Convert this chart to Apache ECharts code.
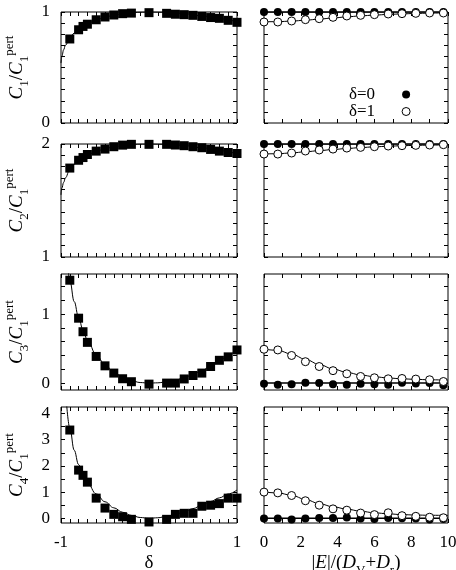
<!DOCTYPE html>
<html>
<head>
<meta charset="utf-8">
<script src="https://cdn.jsdelivr.net/npm/echarts@6/dist/echarts.min.js"></script>
<style>
  html, body { margin: 0; padding: 0; background: #fff; }
  #chart { width: 456px; height: 570px; }
</style>
</head>
<body>
<div id="chart"></div>
<script>
// left column: simulation points vs delta
var deltaX = [-0.9, -0.8, -0.75, -0.7, -0.6, -0.5, -0.4, -0.3, -0.2, 0, 0.2, 0.3, 0.4, 0.5, 0.6, 0.7, 0.8, 0.9, 1.0];
var c1Sim = [0.757, 0.84, 0.87, 0.89, 0.93, 0.955, 0.973, 0.985, 0.99, 0.994, 0.988, 0.98, 0.976, 0.97, 0.96, 0.95, 0.943, 0.925, 0.907];
var c2Sim = [1.787, 1.856, 1.88, 1.907, 1.937, 1.955, 1.976, 1.99, 1.997, 1.997, 1.997, 1.991, 1.985, 1.976, 1.967, 1.952, 1.937, 1.925, 1.916];
var c3Sim = [1.49, 0.94, 0.744, 0.59, 0.386, 0.25, 0.145, 0.063, 0.02, -0.015, 0, 0, 0.06, 0.11, 0.145, 0.24, 0.33, 0.38, 0.48];
var c4Sim = [3.37, 1.84, 1.64, 1.38, 0.77, 0.39, 0.15, 0.06, -0.04, -0.14, -0.04, 0.15, 0.19, 0.19, 0.46, 0.50, 0.56, 0.77, 0.77];

// left column: theory curves
var c1CurveX = [-1, -0.99, -0.97, -0.95, -0.9, -0.85, -0.8, -0.7, -0.6, -0.5, -0.4, -0.3, -0.2, -0.1, 0, 0.2, 0.4, 0.6, 0.8, 1.0];
var c1CurveY = [0.54, 0.6, 0.66, 0.7, 0.765, 0.81, 0.845, 0.893, 0.928, 0.953, 0.972, 0.985, 0.994, 0.998, 1.0, 0.997, 0.985, 0.965, 0.94, 0.91];
var c2CurveY = [1.55, 1.61, 1.66, 1.70, 1.775, 1.82, 1.855, 1.903, 1.935, 1.958, 1.975, 1.987, 1.995, 1.999, 2.0, 1.997, 1.986, 1.967, 1.942, 1.912];
var c3CurveX = [-0.92, -0.9, -0.85, -0.8, -0.75, -0.7, -0.6, -0.5, -0.4, -0.3, -0.2, -0.1, 0, 0.1, 0.2, 0.3, 0.4, 0.5, 0.6, 0.7, 0.8, 0.9, 1.0];
var c3CurveY = [1.65, 1.49, 1.18, 0.95, 0.77, 0.62, 0.41, 0.265, 0.16, 0.085, 0.035, 0.008, 0, 0.004, 0.018, 0.042, 0.078, 0.125, 0.18, 0.245, 0.32, 0.405, 0.5];
var c4CurveX = [-0.94, -0.9, -0.85, -0.8, -0.75, -0.7, -0.6, -0.5, -0.4, -0.3, -0.2, -0.1, 0, 0.1, 0.2, 0.3, 0.4, 0.5, 0.6, 0.7, 0.8, 0.9, 1.0];
var c4CurveY = [4.5, 3.45, 2.6, 2.05, 1.65, 1.35, 0.93, 0.63, 0.4, 0.23, 0.11, 0.03, 0, 0.02, 0.07, 0.15, 0.25, 0.37, 0.5, 0.64, 0.78, 0.93, 1.08];

// right column: points vs |E|/(Dv+Dr)
var eX = [0, 0.75, 1.5, 2.25, 3, 3.75, 4.5, 5.25, 6, 6.75, 7.5, 8.25, 9, 9.75];
var c1E0 = [1, 1, 1, 1, 1, 1, 1, 1, 1, 1, 1, 1, 1, 1];
var c1E1 = [0.91, 0.91, 0.919, 0.931, 0.94, 0.952, 0.964, 0.97, 0.976, 0.982, 0.985, 0.988, 0.991, 0.991];
var c2E0 = [2, 2, 2, 2, 2, 2, 2, 2, 2, 2, 2, 2, 2, 2];
var c2E1 = [1.911, 1.911, 1.92, 1.938, 1.947, 1.955, 1.964, 1.97, 1.976, 1.982, 1.985, 1.988, 1.991, 1.994];
var c3E0 = [-0.01, -0.025, -0.015, 0.005, 0, -0.015, -0.025, -0.01, -0.015, -0.025, 0.005, -0.005, 0, -0.03];
var c3E1 = [0.49, 0.48, 0.40, 0.31, 0.24, 0.18, 0.135, 0.096, 0.077, 0.062, 0.067, 0.058, 0.048, 0.023];
var c4E0 = [-0.01, -0.01, -0.05, -0.01, 0.01, 0.01, 0.03, -0.01, -0.03, 0.01, 0, -0.01, -0.05, -0.03];
var c4E1 = [1.0, 0.97, 0.87, 0.67, 0.50, 0.36, 0.31, 0.2, 0.14, 0.21, 0.10, 0.075, 0.04, 0.02];

// right column: theory curves
var eLineX = [0, 10];
var c1E0Line = [1, 1];
var c2E0Line = [2, 2];
var c3E0Line = [0, 0];
var c4E0Line = [0, 0];
var eCurveX = [0, 0.75, 1.5, 2.25, 3, 3.75, 4.5, 5.25, 6, 6.75, 7.5, 8.25, 9, 10];
var c1E1Curve = [0.912, 0.913, 0.918, 0.926, 0.936, 0.946, 0.956, 0.965, 0.972, 0.978, 0.983, 0.987, 0.99, 0.994];
var c2E1Curve = [1.912, 1.914, 1.921, 1.931, 1.941, 1.951, 1.96, 1.968, 1.975, 1.98, 1.985, 1.988, 1.99, 1.994];
var c3E1Curve = [0.49, 0.475, 0.42, 0.345, 0.27, 0.205, 0.155, 0.118, 0.092, 0.074, 0.062, 0.054, 0.048, 0.043];
var c4E1Curve = [1.0, 0.97, 0.88, 0.72, 0.56, 0.44, 0.35, 0.27, 0.21, 0.17, 0.14, 0.125, 0.115, 0.11];

// ticks and tick labels
var deltaTicks = [-1, -0.9, -0.8, -0.7, -0.6, -0.5, -0.4, -0.3, -0.2, -0.1, 0, 0.1, 0.2, 0.3, 0.4, 0.5, 0.6, 0.7, 0.8, 0.9, 1];
var deltaLabels = [-1, 0, 1];
var eTicks = [0, 1, 2, 3, 4, 5, 6, 7, 8, 9, 10];
var eLabels = [0, 2, 4, 6, 8, 10];
var yTicks1 = [0, 0.1, 0.2, 0.3, 0.4, 0.5, 0.6, 0.7, 0.8, 0.9, 1];
var yLabels1 = [0, 1];
var yTicks2 = [1, 1.1, 1.2, 1.3, 1.4, 1.5, 1.6, 1.7, 1.8, 1.9, 2];
var yLabels2 = [1, 2];
var yTicks3 = [0, 0.2, 0.4, 0.6, 0.8, 1, 1.2, 1.4];
var yLabels3 = [0, 1];
var yTicks4 = [0, 0.5, 1, 1.5, 2, 2.5, 3, 3.5, 4];
var yLabels4 = [0, 1, 2, 3, 4];

function pairs(xs, ys) {
    return xs.map(function (x, i) { return [x, ys[i]]; });
}

var FONT = 'Liberation Serif';
var rich = {
    i: { fontFamily: FONT, fontStyle: 'italic', fontSize: 19, color: '#000', lineHeight: 28, verticalAlign: 'middle' },
    n: { fontFamily: FONT, fontSize: 19, color: '#000', lineHeight: 28, verticalAlign: 'middle' },
    s: { fontFamily: FONT, fontSize: 13, color: '#000', lineHeight: 28, verticalAlign: 'bottom' },
    p: { fontFamily: FONT, fontSize: 13, color: '#000', lineHeight: 28, verticalAlign: 'top' }
};

var rows = [
    { top: 12, height: 111, ymin: 0, ymax: 1, ticks: yTicks1, labels: yLabels1, k: 1,
      sim: c1Sim, cx: c1CurveX, cy: c1CurveY, e0: c1E0, e1: c1E1, e0Line: c1E0Line, e1Curve: c1E1Curve },
    { top: 144, height: 113, ymin: 1, ymax: 2, ticks: yTicks2, labels: yLabels2, k: 2,
      sim: c2Sim, cx: c1CurveX, cy: c2CurveY, e0: c2E0, e1: c2E1, e0Line: c2E0Line, e1Curve: c2E1Curve },
    { top: 274, height: 116, ymin: -0.1, ymax: 1.58, ticks: yTicks3, labels: yLabels3, k: 3,
      sim: c3Sim, cx: c3CurveX, cy: c3CurveY, e0: c3E0, e1: c3E1, e0Line: c3E0Line, e1Curve: c3E1Curve },
    { top: 407, height: 116, ymin: -0.18, ymax: 4.25, ticks: yTicks4, labels: yLabels4, k: 4,
      sim: c4Sim, cx: c4CurveX, cy: c4CurveY, e0: c4E0, e1: c4E1, e0Line: c4E0Line, e1Curve: c4E1Curve }
];
var cols = [
    { left: 61, width: 176, xmin: -1, xmax: 1, ticks: deltaTicks, labels: deltaLabels,
      name: '{n|δ}' },
    { left: 264, width: 184, xmin: 0, xmax: 10, ticks: eTicks, labels: eLabels,
      name: '{n||}{i|E}{n||/(}{i|D}{s|V}{n|+}{i|D}{s|r}{n|)}' }
];

var option = {
    animation: false,
    backgroundColor: '#fff',
    textStyle: { fontFamily: FONT, color: '#000' },
    grid: [],
    xAxis: [],
    yAxis: [],
    series: [],
    legend: {
        data: [
            { name: 'δ=0', itemStyle: { color: '#000', borderWidth: 0 } },
            { name: 'δ=1', itemStyle: { color: '#fff', borderColor: '#000', borderWidth: 1 } }
        ],
        orient: 'vertical',
        left: 344,
        top: 81,
        align: 'right',
        icon: 'circle',
        itemWidth: 8,
        itemHeight: 8,
        itemGap: 0,
        selectedMode: false,
        textStyle: { fontFamily: FONT, fontSize: 17, color: '#000', padding: [0, 22, 0, 0] }
    }
};

function tickAxis(gi, pos, min, max, ticks, labels, showLabels) {
    return {
        gridIndex: gi,
        type: 'value',
        position: pos,
        min: min,
        max: max,
        axisLine: { show: false, onZero: false },
        splitLine: { show: false },
        axisTick: { show: true, inside: true, length: 4, customValues: ticks, lineStyle: { color: '#000', width: 1 } },
        axisLabel: { show: showLabels, customValues: labels, fontFamily: FONT, fontSize: 17, color: '#000', margin: 11 }
    };
}

rows.forEach(function (row, r) {
    cols.forEach(function (col, c) {
        var gi = option.grid.length;
        option.grid.push({
            left: col.left, top: row.top, width: col.width, height: row.height,
            show: true, borderColor: '#000', borderWidth: 1, backgroundColor: 'transparent',
            containLabel: false, outerBoundsMode: 'none'
        });
        var xb = tickAxis(gi, 'bottom', col.xmin, col.xmax, col.ticks, col.labels, r === 3);
        if (r === 3) {
            xb.name = col.name;
            xb.nameLocation = 'middle';
            xb.nameGap = 26;
            xb.nameTextStyle = { fontFamily: FONT, fontSize: 19, color: '#000', rich: rich };
        }
        option.xAxis.push(xb);
        option.xAxis.push(tickAxis(gi, 'top', col.xmin, col.xmax, col.ticks, col.labels, false));

        var yl = tickAxis(gi, 'left', row.ymin, row.ymax, row.ticks, row.labels, c === 0);
        if (c === 0) {
            yl.name = '{i|C}{s|' + row.k + '}{n|/}{i|C}{s|1}{p|pert}';
            yl.nameLocation = 'middle';
            yl.nameRotate = 90;
            yl.nameGap = 30;
            yl.nameTextStyle = { rich: rich };
        }
        option.yAxis.push(yl);
        option.yAxis.push(tickAxis(gi, 'right', row.ymin, row.ymax, row.ticks, row.labels, false));

        var ax = 2 * gi;
        if (c === 0) {
            option.series.push({
                type: 'line', name: 'theory', xAxisIndex: ax, yAxisIndex: ax,
                data: pairs(row.cx, row.cy), showSymbol: false, symbol: 'none',
                smooth: 0.4, smoothMonotone: 'x', clip: true, z: 2,
                lineStyle: { color: '#000', width: 1 }
            });
            option.series.push({
                type: 'scatter', name: 'sim', xAxisIndex: ax, yAxisIndex: ax,
                data: pairs(deltaX, row.sim), symbol: 'rect', symbolSize: 9, z: 3,
                itemStyle: { color: '#000', opacity: 1 }
            });
        } else {
            option.series.push({
                type: 'scatter', name: 'δ=0', xAxisIndex: ax, yAxisIndex: ax,
                data: pairs(eX, row.e0), symbol: 'circle', symbolSize: 8, z: 4,
                itemStyle: { color: '#000', opacity: 1 }
            });
            option.series.push({
                type: 'scatter', name: 'δ=1', xAxisIndex: ax, yAxisIndex: ax,
                data: pairs(eX, row.e1), symbol: 'circle', symbolSize: 8, z: 4,
                itemStyle: { color: '#fff', borderColor: '#000', borderWidth: 1, opacity: 1 }
            });
            option.series.push({
                type: 'line', name: 'δ=0 theory', xAxisIndex: ax, yAxisIndex: ax,
                data: pairs(eLineX, row.e0Line), showSymbol: false, symbol: 'none', z: 2,
                lineStyle: { color: '#000', width: 1.5 }
            });
            option.series.push({
                type: 'line', name: 'δ=1 theory', xAxisIndex: ax, yAxisIndex: ax,
                data: pairs(eCurveX, row.e1Curve), showSymbol: false, symbol: 'none',
                smooth: 0.4, smoothMonotone: 'x', z: 2,
                lineStyle: { color: '#000', width: 1 }
            });
        }
    });
});

echarts.init(document.getElementById('chart'), null, { renderer: 'canvas' }).setOption(option);
</script>
</body>
</html>
